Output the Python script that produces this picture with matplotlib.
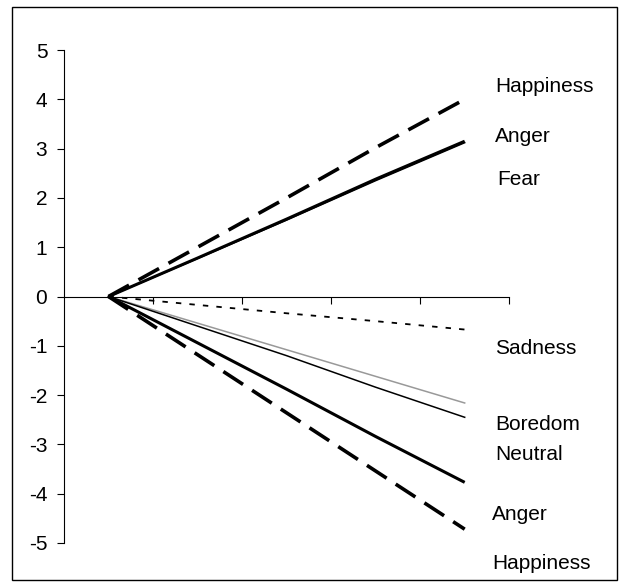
import matplotlib.pyplot as plt
from matplotlib.patches import Rectangle
import numpy as np

plt.rcParams['font.family'] = ['Liberation Sans', 'DejaVu Sans']

steps = [0, 1, 2, 3, 4]
happiness_up = [0, 1.0, 2.0, 3.02, 4.0]
anger_up = [0, 0.78, 1.57, 2.38, 3.15]
fear = [0, 0.77, 1.55, 2.35, 3.12]
sadness = [0, -0.17, -0.34, -0.5, -0.67]
boredom = [0, -0.54, -1.08, -1.62, -2.16]
neutral = [0, -0.6, -1.2, -1.84, -2.45]
anger_down = [0, -0.94, -1.88, -2.84, -3.77]
happiness_down = [0, -1.18, -2.36, -3.54, -4.72]

yticks = [5, 4, 3, 2, 1, 0, -1, -2, -3, -4, -5]

# label text, x, y
labels = [("Happiness", 4.34, 4.25), ("Anger", 4.34, 3.24), ("Fear", 4.37, 2.38),
          ("Sadness", 4.34, -1.06), ("Boredom", 4.34, -2.6), ("Neutral", 4.34, -3.2),
          ("Anger", 4.31, -4.43), ("Happiness", 4.31, -5.42)]

fig = plt.figure(figsize=(6.21, 5.85), dpi=100)
ax = fig.add_axes([0.103, 0.0718, 0.717, 0.8427])

ax.plot(steps, boredom, color='#999999', lw=1.1)
ax.plot(steps, neutral, color='black', lw=1.1)
ax.plot(steps, fear, color='black', lw=1.1)
ax.plot(steps, sadness, color='black', lw=1.3, dashes=(3, 4.5))
ax.plot(steps, anger_up, color='black', lw=2.2, solid_capstyle='butt')
ax.plot(steps, anger_down, color='black', lw=2.2, solid_capstyle='butt')
ax.plot(steps, happiness_up, color='black', lw=2.6, dashes=(6.5, 3))
ax.plot(steps, happiness_down, color='black', lw=2.6, dashes=(6.5, 3))

for txt, x, y in labels:
    ax.text(x, y, txt, fontsize=15, va='center', ha='left', clip_on=False)

ax.set_xlim(-0.5, 4.5)
ax.set_ylim(-5, 5)
ax.set_yticks(yticks)
ax.set_yticklabels([str(v) for v in yticks], fontsize=15)
ax.set_xticks([0.5, 1.5, 2.5, 3.5, 4.5])
ax.set_xticklabels([])
ax.tick_params(axis='y', direction='out', length=5, width=0.8, pad=7)
ax.tick_params(axis='x', direction='out', length=5, width=0.8)

ax.spines['right'].set_color('none')
ax.spines['top'].set_color('none')
ax.spines['bottom'].set_position(('data', 0))
ax.spines['left'].set_linewidth(0.8)
ax.spines['bottom'].set_linewidth(0.8)

fig.patches.append(Rectangle((12 / 621, 5 / 585), 605 / 621, 573 / 585, transform=fig.transFigure,
                             fill=False, edgecolor='black', lw=1))

plt.savefig('out.png', dpi=100)
